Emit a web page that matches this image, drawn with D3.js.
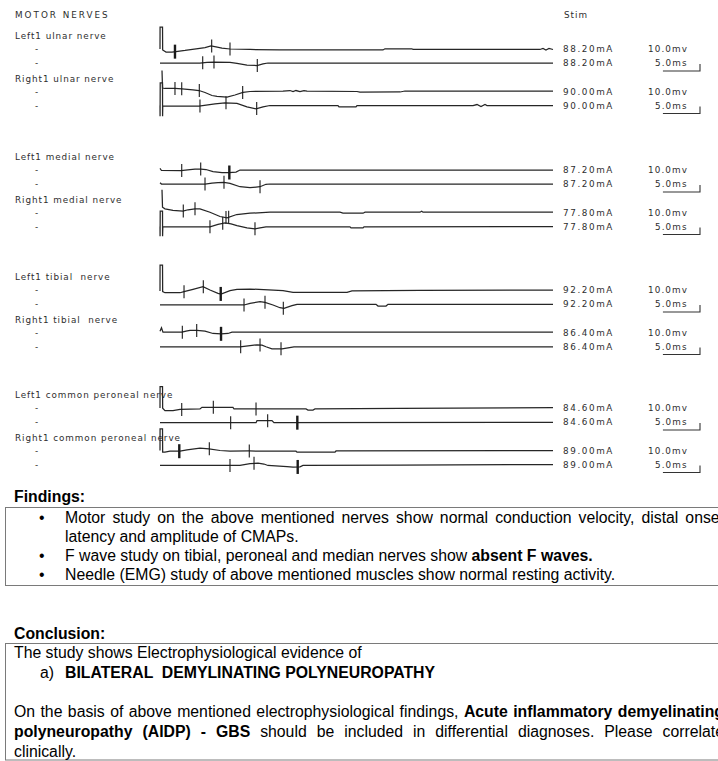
<!DOCTYPE html>
<html>
<head>
<meta charset="utf-8">
<script src="https://d3js.org/d3.v7.min.js"></script>
<style>
  body { margin: 0; background: #fff; }
  .lab { font-family: "DejaVu Sans", Verdana, sans-serif; font-size: 8.8px; fill: #2e2e2e; letter-spacing: 0.95px; white-space: pre; }
  .ttl { font-family: "DejaVu Sans", Verdana, sans-serif; font-size: 8.8px; fill: #2e2e2e; letter-spacing: 2px; }
  .num { font-family: "DejaVu Sans", Verdana, sans-serif; font-size: 8.8px; fill: #2e2e2e; letter-spacing: 1.6px; }
  .doc { font-family: "Liberation Sans", Arial, sans-serif; font-size: 15.8px; fill: #000; white-space: pre; }
</style>
</head>
<body>
<div id="report"></div>
<script>

// ---- data ----
var nerveLabels = [
  ["Left1 ulnar nerve", "Right1 ulnar nerve"],
  ["Left1 medial nerve", "Right1 medial nerve"],
  ["Left1 tibial  nerve", "Right1 tibial  nerve"],
  ["Left1 common peroneal nerve", "Right1 common peroneal nerve"]
];

// stimulus current (mA) for each of the 4 rows of a nerve pair
var stimCurrent = [
  [88.20, 88.20, 90.00, 90.00],
  [87.20, 87.20, 77.80, 77.80],
  [92.20, 92.20, 86.40, 86.40],
  [84.60, 84.60, 89.00, 89.00]
];

var gainLabels = ["10.0mv", "5.0ms"];

// traces: [time ms, amplitude mV]
var ulnarTraces = [
  [[0,0],[0.01,31.4],[0.34,31.4],[0.36,-1.4],[0.81,-4.3],[1.62,-4.3],[2.16,-3.6],[3.37,-2.1],[5.12,0.7],[6.07,2.1],[6.88,4.3],[7.55,2.9],[8.36,1.4],[9.44,0],[12.14,-0.7],[16.18,-1.4],[30.07,-1.4],[30.34,0.3],[33.98,0.3],[34.12,-0.7],[51.24,-0.7],[51.65,0.7],[52.05,-1.4],[52.46,0.7],[53,-0.7]],
  [[0,0],[5.39,0],[6.34,1.0],[7.28,1.4],[9.44,1.0],[10.38,-0.7],[11.73,-2.9],[13.08,-3.6],[13.89,-1.4],[14.56,0],[53,0]],
  [[0.27,30],[0.34,5.0],[0.67,4.3],[2.02,4.3],[2.97,3.9],[4.45,2.4],[5.26,1.4],[6.07,-1.4],[7.01,-5.7],[7.69,-7.1],[9.04,-7.9],[10.11,-5.0],[11.19,-1.4],[12.14,0],[16.59,0.4],[17.53,1.4],[17.94,0],[18.34,1.4],[18.88,0],[19.42,1.4],[19.82,0.4],[26.57,0],[26.97,-1.0],[32.37,-0.7],[33.04,0.7],[53,0.7]],
  [[0,0],[0.01,-15.3],[0.03,32.4],[0.34,32.4],[0.35,-15.3],[0.37,-1.0],[5.26,-1.0],[7.42,2.4],[8.77,3.9],[10.38,2.9],[11.73,-1.9],[12.95,-4.7],[13.89,-1.9],[14.83,0],[24.0,0],[24.14,-1.9],[26.43,-1.9],[26.57,0],[42.21,0],[42.75,1.4],[43.29,-1.4],[43.83,1.4],[44.1,0],[53,0]]
];
var medianTraces = [
  [[0,2.4],[0.2,-0.7],[2.83,-1.0],[4.05,0.7],[4.72,1.4],[5.53,1.4],[6.2,0.7],[7.15,-2.4],[8.36,-3.9],[9.31,-3.6],[10.25,-2.9],[10.79,0],[53,0]],
  [[0,1.9],[0.2,0],[6.07,0],[7.01,1.4],[7.82,2.1],[8.63,2.4],[9.44,1.0],[10.79,-3.9],[12.14,-5.3],[13.49,-3.9],[14.29,-0.4],[14.83,0],[53,0]],
  [[0.27,32.4],[0.34,7.6],[0.67,5.3],[1.75,2.9],[3.1,1.9],[3.78,3.9],[4.72,5.3],[5.39,5.3],[6.74,0.4],[8.09,-5.7],[9.04,-7.6],[10.34,-2.9],[12.14,-1.0],[14.83,0.4],[24.27,0.4],[24.68,-1.0],[27.38,-1.0],[27.65,0.4],[35.06,0.4],[35.29,1.9],[35.47,0.4],[53,0.4]],
  [[0,0],[0.01,-13.9],[0.03,21.9],[0.34,21.9],[0.35,-13.9],[0.38,-0.4],[6.74,-0.4],[7.82,2.9],[8.77,5.3],[9.58,3.6],[10.38,1.4],[11.73,-1.9],[12.81,-3.3],[13.49,-1.9],[14.29,-0.4],[25.62,-0.4],[25.76,-1.9],[27.38,-1.9],[27.51,-0.4],[53,0]]
];
var tibialTraces = [
  [[0,-1.4],[0.01,35.7],[0.34,35.7],[0.36,-2.4],[0.67,-3.9],[2.7,-3.9],[3.24,-2.4],[4.45,1.0],[5.8,4.7],[6.74,0],[7.82,-4.7],[8.23,-5.7],[9.44,-1.0],[10.38,1.0],[12.14,1.4],[16.59,-1.0],[17.94,-3.3],[25.22,-3.3],[25.89,-1.4],[35.06,-0.4],[53,0]],
  [[0,-1.4],[11.33,-1.4],[12.14,1.0],[13.49,3.3],[14.16,2.4],[15.24,-1.4],[16.18,-5.3],[16.72,-6.1],[17.8,-2.4],[18.48,-0.4],[29.13,-0.4],[29.4,-2.9],[30.48,-2.9],[30.75,-0.4],[53,-0.4]],
  [[0,1.9],[0.2,6.7],[0.4,0.4],[2.97,0.4],[3.51,1.9],[4.05,2.9],[4.99,2.9],[6.07,1.9],[7.15,-1.4],[8.23,-1.9],[9.17,-1.4],[9.71,0.4],[53,0.4]],
  [[0,-0.4],[10.79,-0.4],[12.14,1.4],[13.08,2.4],[13.76,1.9],[14.29,-0.4],[15.1,-3.3],[16.45,-3.3],[17.26,-1.9],[18.07,-0.4],[53,-0.4]]
];
var peronealTraces = [
  [[0,0],[0.01,30.4],[0.34,30.4],[0.36,-0.4],[0.67,-3.9],[1.75,-3.9],[2.7,-2.1],[5.39,-1.4],[5.66,1.0],[9.84,1.0],[9.98,-1.4],[19.69,-1.4],[19.96,-2.9],[20.63,-2.9],[20.9,-1.4],[32.37,-0.7],[53,0.4]],
  [[0,-1.0],[12.95,-1.0],[13.08,1.9],[15.1,1.9],[15.37,-1.0],[53,-0.4]],
  [[0,0],[0.01,31],[0.34,31],[0.36,-2.4],[0.67,-2.4],[1.35,-1.0],[2.7,-1.0],[3.64,1.0],[5.39,3.3],[6.61,2.4],[8.09,0],[9.44,-1.0],[12.0,-0.7],[18.34,-1.0],[18.48,-2.4],[23.6,-2.4],[23.74,-0.7],[53,0]],
  [[0,-1.4],[10.79,-1.4],[12.14,1.4],[13.22,1.9],[14.02,0.7],[14.56,-1.4],[17.13,-2.9],[17.94,-3.9],[18.88,-3.3],[19.28,-1.4],[32.37,-1.0],[53,0]]
];

// cursor marks: [latency ms, bold]
var ulnarCursors = [
  [[2.02,1],[6.97,0],[9.44,0]],
  [[5.76,0],[7.28,0],[13.12,0]],
  [[2.02,0],[2.93,0],[5.30,0],[11.15,0]],
  [[5.39,0],[8.9,0],[13.04,0]]
];
var medianCursors = [
  [[2.93,0],[5.49,0],[9.35,1]],
  [[6.07,0],[8.63,0],[13.49,0]],
  [[3.14,0],[4.72,0],[8.9,0],[9.26,0]],
  [[6.74,0],[8.46,0],[12.81,0]]
];
var tibialCursors = [
  [[3.24,0],[5.84,0],[8.19,1]],
  [[11.33,0],[14.16,0],[16.63,0]],
  [[3.01,0],[4.95,0],[8.23,1]],
  [[10.88,0],[13.49,0],[16.32,0]]
];
var peronealCursors = [
  [[2.93,0],[7.19,0],[12.95,0]],
  [[9.53,0],[14.52,0],[18.52,1]],
  [[2.6,1],[6.65,0],[12.04,0]],
  [[9.44,0],[12.68,0],[18.57,1]]
];

var findingsLines = [
  { bullet: true, justify: true, segs: [["Motor study on the above mentioned nerves show normal conduction velocity, distal onset", 0]] },
  { bullet: false, segs: [["latency and amplitude of CMAPs.", 0]] },
  { bullet: true, segs: [["F wave study on tibial, peroneal and median nerves show ", 0], ["absent F waves.", 1]] },
  { bullet: true, segs: [["Needle (EMG) study of above mentioned muscles show normal resting activity.", 0]] }
];

var conclusionLines = [
  { segs: [["The study shows Electrophysiological evidence of", 0]] },
  { item: "a)", segs: [["BILATERAL  DEMYLINATING POLYNEUROPATHY", 1]] },
  { segs: [] },
  { justify: true, segs: [["On the basis of above mentioned electrophysiological findings, ", 0], ["Acute inflammatory demyelinating", 1]] },
  { justify: true, segs: [["polyneuropathy (AIDP) - GBS", 1], [" should be included in differential diagnoses. Please correlate", 0]] },
  { segs: [["clinically.", 0]] }
];

// ---- layout ----
var width = 718, height = 761;
var groupY = [49, 170, 290, 408];
var rowOff = [0, 14, 42.5, 56.5];

var groups = [
  { traces: ulnarTraces, cursors: ulnarCursors },
  { traces: medianTraces, cursors: medianCursors },
  { traces: tibialTraces, cursors: tibialCursors },
  { traces: peronealTraces, cursors: peronealCursors }
];

var svg = d3.select("#report")
  .append("svg")
    .attr("width", width)
    .attr("height", height);

var x = d3.scaleLinear().domain([0, 53]).range([160, 553]);   // sweep, ms
var amp = d3.scaleLinear().domain([0, 10]).range([0, 7]);     // 10 mV -> px

function valueAt(tr, t) {
  var i = d3.bisector(function(d) { return d[0]; }).left(tr, t);
  if (i <= 0) return tr[0][1];
  if (i >= tr.length) return tr[tr.length - 1][1];
  var a = tr[i - 1], b = tr[i];
  return a[1] + (b[1] - a[1]) * (t - a[0]) / (b[0] - a[0]);
}

svg.append("text").attr("class", "ttl").attr("x", 15).attr("y", 15).attr("dy", "0.35em").text("MOTOR NERVES");
svg.append("text").attr("class", "num").attr("x", 564).attr("y", 15).attr("dy", "0.35em").style("letter-spacing", "1px").text("Stim");

var fmt = d3.format(".2f");

groups.forEach(function(g, gi) {
  var gy = groupY[gi];

  [0, 1].forEach(function(side) {
    svg.append("text")
      .attr("class", "lab")
      .attr("x", 15)
      .attr("y", gy + rowOff[side * 2] - 13)
      .attr("dy", "0.35em")
      .text(nerveLabels[gi][side]);
  });

  g.traces.forEach(function(tr, ri) {
    var ry = gy + rowOff[ri];
    var yv = function(v) { return ry - amp(v); };

    svg.append("text").attr("class", "lab").attr("x", 35).attr("y", ry).attr("dy", "0.35em").text("-");

    svg.append("path")
      .datum(tr)
      .attr("d", d3.line().x(function(d) { return x(d[0]); }).y(function(d) { return yv(d[1]); }))
      .attr("fill", "none")
      .attr("stroke", "#262626")
      .attr("stroke-width", 1.25);

    g.cursors[ri].forEach(function(c) {
      var cy = yv(valueAt(tr, c[0]));
      var h = c[1] ? 7 : 6.5;
      svg.append("line")
        .attr("x1", x(c[0])).attr("x2", x(c[0]))
        .attr("y1", cy - h).attr("y2", cy + h)
        .attr("stroke", "#1a1a1a")
        .attr("stroke-width", c[1] ? 2.4 : 1.1);
    });

    svg.append("text")
      .attr("class", "num")
      .attr("x", 563).attr("y", ry).attr("dy", "0.35em")
      .text(fmt(stimCurrent[gi][ri]) + "mA");

    var isTime = ri % 2 === 1;
    svg.append("text")
      .attr("class", "num")
      .attr("x", isTime ? 655 : 648).attr("y", ry).attr("dy", "0.35em")
      .style("letter-spacing", "1.1px")
      .text(gainLabels[isTime ? 1 : 0]);

    if (isTime) {
      var bx = 700, by = ry + 8;
      var bw = x(5) - x(0);
      svg.append("path")
        .attr("d", "M" + (bx - bw) + "," + by + "H" + bx + "V" + (by - amp(10)))
        .attr("fill", "none")
        .attr("stroke", "#333")
        .attr("stroke-width", 1.1);
    }
  });
});

// ---- findings / conclusion ----
function addLine(y, x0, line) {
  var t = svg.append("text").attr("class", "doc").attr("x", x0).attr("y", y);
  line.segs.forEach(function(s) {
    t.append("tspan").style("font-weight", s[1] ? "bold" : "normal").text(s[0]);
  });
  if (line.justify) {
    var n = t.node();
    var w = n.getComputedTextLength();
    var gaps = (n.textContent.match(/ /g) || []).length;
    t.style("word-spacing", ((724 - x0 - w) / gaps) + "px");
  }
  return t;
}

svg.append("text").attr("class", "doc").attr("x", 14).attr("y", 501.5)
  .style("font-weight", "bold").text("Findings:");

svg.append("rect")
  .attr("x", 5.5).attr("y", 507.5).attr("width", 730).attr("height", 78)
  .attr("fill", "none").attr("stroke", "#7a7a7a").attr("stroke-width", 1);

findingsLines.forEach(function(line, i) {
  var y = 523 + i * 19;
  if (line.bullet) {
    svg.append("text").attr("class", "doc").attr("x", 39).attr("y", y).text("\u2022");
  }
  addLine(y, 65, line);
});

svg.append("text").attr("class", "doc").attr("x", 14).attr("y", 638.5)
  .style("font-weight", "bold").text("Conclusion:");

svg.append("rect")
  .attr("x", 5.5).attr("y", 643.5).attr("width", 730).attr("height", 116.5)
  .attr("fill", "none").attr("stroke", "#7a7a7a").attr("stroke-width", 1);

conclusionLines.forEach(function(line, i) {
  var y = 658 + i * 19.8;
  if (line.item) {
    svg.append("text").attr("class", "doc").attr("x", 40).attr("y", y).text(line.item);
    addLine(y, 65, line);
  } else if (line.segs.length) {
    addLine(y, 14, line);
  }
});
</script>
</body>
</html>
